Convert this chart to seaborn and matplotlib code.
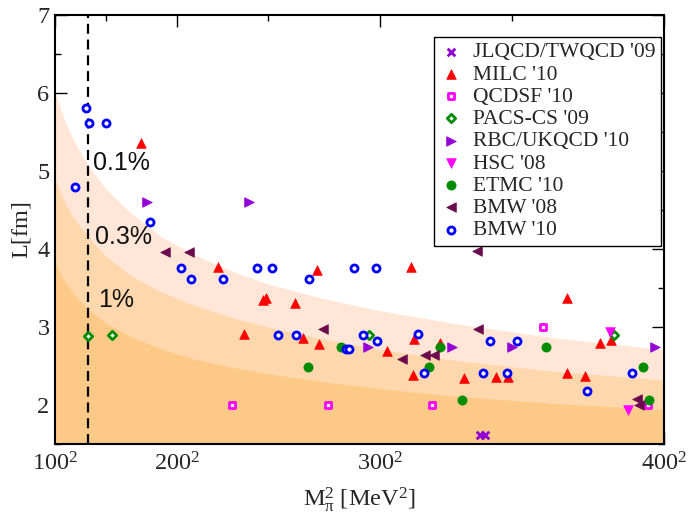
import numpy as np
import pandas as pd
import seaborn as sns
import matplotlib
matplotlib.use("Agg")
import matplotlib.pyplot as plt
from matplotlib.ticker import FixedLocator, FixedFormatter, MultipleLocator

# ---------------- data (M_pi in MeV, L in fm) ----------------
jlqcd_m = [338.6, 340.5]
jlqcd_L = [1.61, 1.61]

milc_m = [176.6, 223.8, 247.3, 248.8, 262.9, 238.0, 273.1, 312.4, 266.5, 273.9,
          302.8, 313.8, 323.8, 313.4, 332.8, 369.0, 379.8, 383.2, 344.4, 348.8,
          369.0, 374.9]
milc_L = [5.36, 3.77, 3.35, 3.37, 3.31, 2.91, 3.73, 3.77, 2.86, 2.78,
          2.69, 2.84, 2.80, 2.39, 2.34, 3.37, 2.80, 2.83, 2.36, 2.36,
          2.41, 2.37]

qcdsf_m = [231.7, 277.8, 320.8, 360.9, 395.0]
qcdsf_L = [2.00, 2.00, 2.00, 3.00, 2.00]

pacs_m = [134.9, 155.3, 295.7, 384.4]
pacs_L = [2.88, 2.90, 2.90, 2.90]

rbc_m = [180.5, 240.4, 295.0, 328.2, 350.0, 397.2]
rbc_L = [4.60, 4.60, 2.75, 2.75, 2.75, 2.75]

hsc_m = [383.0, 388.8]
hsc_L = [2.94, 1.94]

etmc_m = [283.6, 269.0, 319.7, 323.8, 331.9, 361.8, 393.6, 395.4]
etmc_L = [2.75, 2.49, 2.49, 2.75, 2.06, 2.75, 2.49, 2.06]

bmw08_m = [192.6, 207.6, 337.4, 275.8, 309.1, 318.0, 321.5, 338.0, 391.5, 392.2]
bmw08_L = [3.96, 3.96, 3.98, 2.98, 2.59, 2.64, 2.64, 2.98, 2.08, 2.00]

bmw10_m = [122.2, 132.8, 135.8, 150.0, 183.0, 202.6, 208.6, 226.8, 244.3, 251.7,
           255.0, 263.4, 269.4, 289.3, 298.3, 285.7, 287.1, 293.1, 298.7, 315.4,
           317.6, 342.3, 351.7, 339.8, 348.2, 375.4, 389.9]
bmw10_L = [4.80, 5.81, 5.62, 5.62, 4.34, 3.75, 3.62, 3.61, 3.75, 3.75,
           2.90, 2.90, 3.61, 3.75, 3.75, 2.72, 2.72, 2.90, 2.82, 2.91,
           2.41, 2.82, 2.82, 2.41, 2.41, 2.18, 2.41]

# finite-volume band boundaries
band_m = [100, 110, 120, 135, 150, 170, 190, 210, 230, 250, 275, 300, 330, 365, 400]
c01_L = [6.00, 5.69, 5.41, 5.07, 4.77, 4.45, 4.16, 3.93, 3.73, 3.55, 3.37, 3.21, 3.04, 2.86, 2.71]
c03_L = [4.89, 4.63, 4.41, 4.15, 3.91, 3.65, 3.45, 3.28, 3.13, 3.00, 2.85, 2.71, 2.57, 2.43, 2.32]
c1_L = [3.83, 3.61, 3.44, 3.22, 3.05, 2.87, 2.72, 2.59, 2.49, 2.40, 2.30, 2.21, 2.11, 2.02, 1.94]

band_labels = ["0.1%", "0.3%", "1%"]
band_label_m = [139.1, 140.9, 143.5]
band_label_L = [5.10, 4.15, 3.35]

phys_mpi = 135.0

x_ticks_m = [100, 200, 300, 400]
x_minor_m = [150, 250, 350]
x_tick_labels = [r"$100^{2}$", r"$200^{2}$", r"$300^{2}$", r"$400^{2}$"]

# ---------------- style ----------------
sns.set_theme(style="ticks")
plt.rcParams["font.family"] = ["Liberation Serif", "DejaVu Serif"]
plt.rcParams["mathtext.fontset"] = "custom"
plt.rcParams["mathtext.rm"] = "Liberation Serif"
plt.rcParams["mathtext.it"] = "Liberation Serif"
plt.rcParams["mathtext.bf"] = "Liberation Serif:bold"

fig = plt.figure(figsize=(6.9, 5.22), dpi=100)
ax = fig.add_axes([55 / 690, 1 - 444 / 522, 609 / 690, 429 / 522])

xmin, xmax = 100 ** 2, 400 ** 2
ymin, ymax = 1.5, 7.0

band_x = np.array(band_m, dtype=float) ** 2
band_colors = ["#FFE6D6", "#FED8AC", "#FDC986"]
for cL, col in zip([c01_L, c03_L, c1_L], band_colors):
    ax.fill_between(band_x, ymin, cL, color=col, lw=0, zorder=1)

ax.axvline(phys_mpi ** 2, color="black", lw=1.6, ls=(0, (4.5, 2.6)), zorder=2)

for t, m, L in zip(band_labels, band_label_m, band_label_L):
    ax.text(m ** 2, L, t, ha="left", va="center", fontsize=18,
            family=["Liberation Sans", "DejaVu Sans"], color="#111111", zorder=3)

groups = [
    ("JLQCD/TWQCD '09", jlqcd_m, jlqcd_L, dict(marker="x", color="#9400D3", s=30, linewidth=2.0)),
    ("MILC '10", milc_m, milc_L, dict(marker="^", color="#FF0000", s=48, edgecolor="#FF0000", linewidth=0.5)),
    ("QCDSF '10", qcdsf_m, qcdsf_L, dict(marker="s", facecolor="white", edgecolor="#FF00FF", s=22, linewidth=2.0)),
    ("PACS-CS '09", pacs_m, pacs_L, dict(marker="D", facecolor="white", edgecolor="#008C00", s=18, linewidth=2.0)),
    ("RBC/UKQCD '10", rbc_m, rbc_L, dict(marker=">", color="#9400D3", s=48, edgecolor="#9400D3", linewidth=0.5)),
    ("HSC '08", hsc_m, hsc_L, dict(marker="v", color="#FF00FF", s=48, edgecolor="#FF00FF", linewidth=0.5)),
    ("ETMC '10", etmc_m, etmc_L, dict(marker="o", color="#008C00", s=44, edgecolor="#008C00", linewidth=0.5)),
    ("BMW '08", bmw08_m, bmw08_L, dict(marker="<", color="#6B0A4C", s=48, edgecolor="#6B0A4C", linewidth=0.5)),
    ("BMW '10", bmw10_m, bmw10_L, dict(marker="o", facecolor="white", edgecolor="#0000FF", s=26, linewidth=2.0)),
]

for i, (name, m, L, kw) in enumerate(groups):
    df = pd.DataFrame({"M2": np.array(m, dtype=float) ** 2, "L": L})
    sns.scatterplot(data=df, x="M2", y="L", ax=ax, label=name, zorder=5 + i, **kw)

ax.set_xlim(xmin, xmax)
ax.set_ylim(ymin, ymax)

ax.xaxis.set_major_locator(FixedLocator([v ** 2 for v in x_ticks_m]))
ax.xaxis.set_major_formatter(FixedFormatter(x_tick_labels))
ax.xaxis.set_minor_locator(FixedLocator([v ** 2 for v in x_minor_m]))
ax.yaxis.set_major_locator(MultipleLocator(1))
ax.yaxis.set_minor_locator(MultipleLocator(0.5))

ax.tick_params(which="both", direction="in", top=True, right=True, color="black",
               labelsize=17.5, width=1.0)
ax.tick_params(which="major", length=8.6)
ax.tick_params(which="minor", length=4.3)
ax.tick_params(axis="x", which="major", pad=6)
ax.tick_params(axis="y", which="major", pad=4)

for sp in ax.spines.values():
    sp.set_linewidth(1.5)
    sp.set_color("black")
    sp.set_zorder(20)

ax.set_xlabel(r"M$_{\mathrm{π}}^{2}$ [MeV$^{2}$]", fontsize=17.5, labelpad=7)
ax.set_ylabel("L[fm]", fontsize=17.5, labelpad=4)

leg = ax.legend(loc="upper right", bbox_to_anchor=((661 - 55) / 609, (444 - 37) / 429),
                fontsize=15.5, frameon=True, fancybox=False, framealpha=1,
                edgecolor="black", borderpad=0.25, labelspacing=0.1,
                handlelength=1.0, handletextpad=0.55, borderaxespad=0)
leg.get_frame().set_linewidth(1.0)
leg.set_zorder(30)

fig.savefig("out.png", dpi=100, facecolor="white")
